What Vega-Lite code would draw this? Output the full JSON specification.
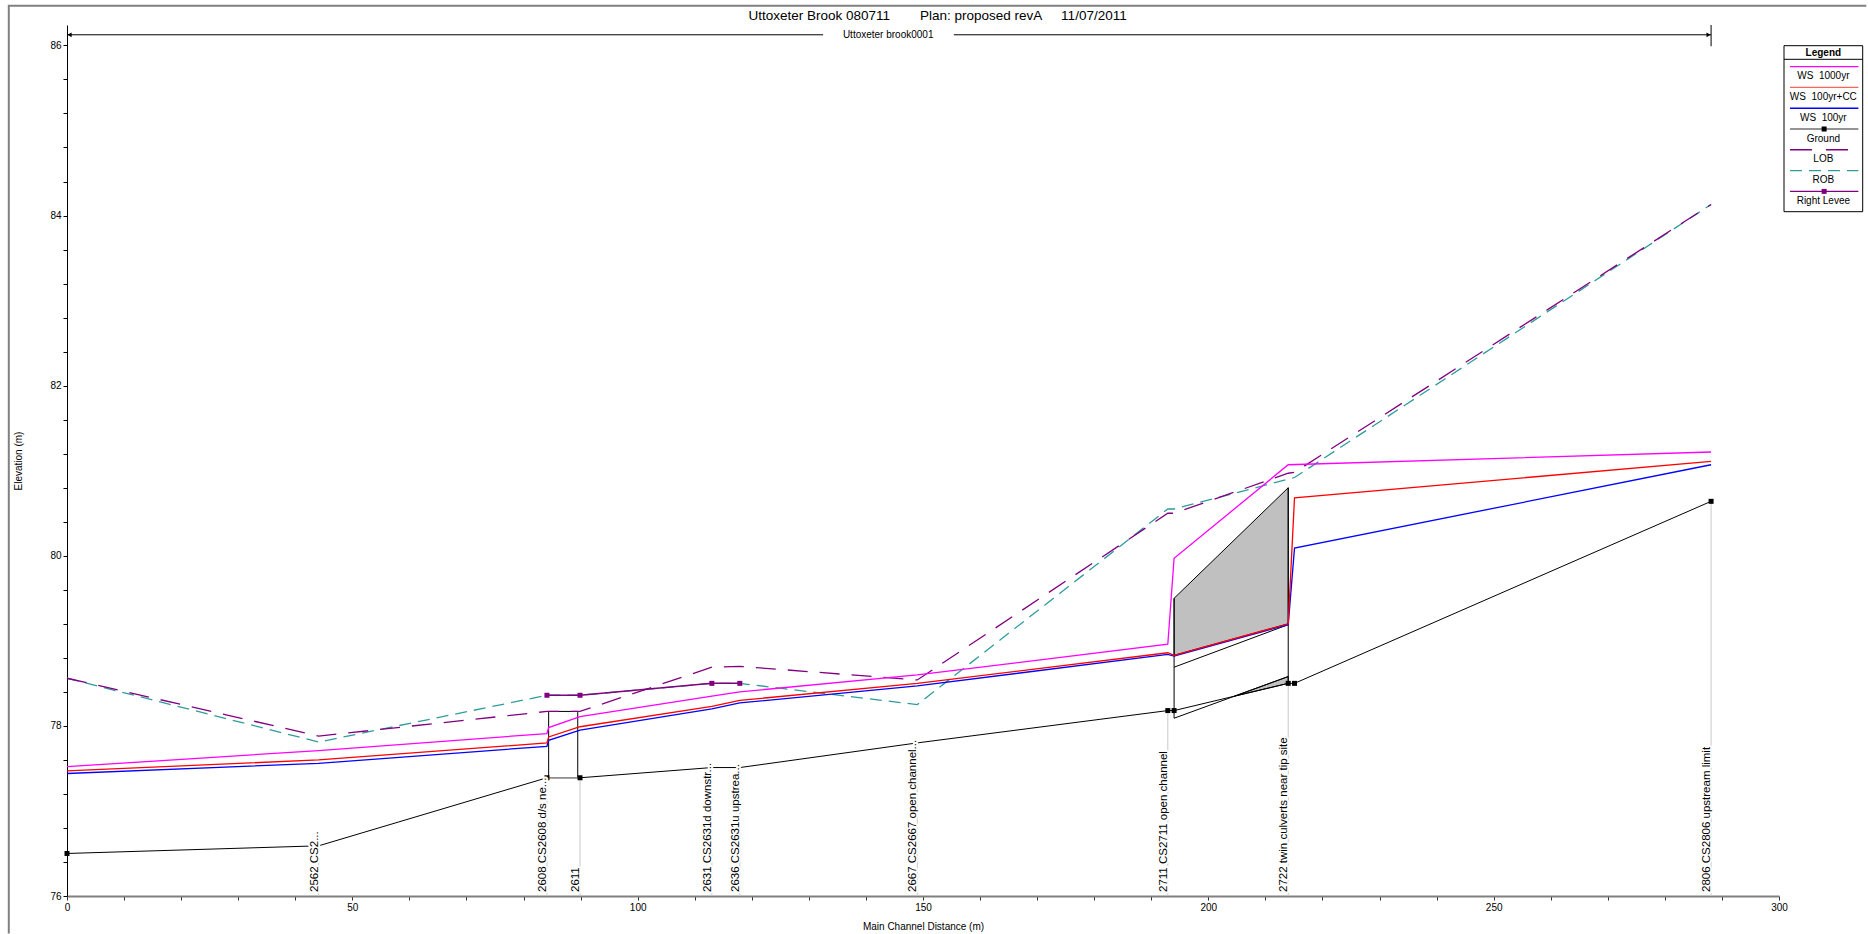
{
  "$schema": "https://vega.github.io/schema/vega-lite/v6.json",
  "background": "white",
  "padding": {"left": 4, "top": 1, "right": 1, "bottom": 0},
  "title": {
    "text": "Uttoxeter Brook 080711\u00a0\u00a0\u00a0\u00a0\u00a0\u00a0\u00a0\u00a0Plan: proposed revA\u00a0\u00a0\u00a0\u00a0\u00a011/07/2011",
    "font": "Liberation Sans", "fontSize": 13.5, "fontWeight": "normal", "color": "#000000",
    "anchor": "middle", "offset": -21
  },
  "config": {"view": {"stroke": null}, "font": "Liberation Sans"},
  "spacing": 5,
  "bounds": "flush",
  "datasets": {
    "lines": [
      {"s": "WS 1000yr", "i": 0, "x": 0, "y": 77.52},
      {"s": "WS 1000yr", "i": 1, "x": 44.1, "y": 77.71},
      {"s": "WS 1000yr", "i": 2, "x": 84.1, "y": 77.91},
      {"s": "WS 1000yr", "i": 3, "x": 84.4, "y": 77.98},
      {"s": "WS 1000yr", "i": 4, "x": 89.9, "y": 78.11},
      {"s": "WS 1000yr", "i": 5, "x": 113, "y": 78.35},
      {"s": "WS 1000yr", "i": 6, "x": 117.9, "y": 78.4},
      {"s": "WS 1000yr", "i": 7, "x": 149, "y": 78.6},
      {"s": "WS 1000yr", "i": 8, "x": 192.9, "y": 78.96},
      {"s": "WS 1000yr", "i": 9, "x": 194, "y": 79.97},
      {"s": "WS 1000yr", "i": 10, "x": 214, "y": 81.07},
      {"s": "WS 1000yr", "i": 11, "x": 288.1, "y": 81.22},
      {"s": "WS 100yr+CC", "i": 0, "x": 0, "y": 77.47},
      {"s": "WS 100yr+CC", "i": 1, "x": 44.1, "y": 77.6},
      {"s": "WS 100yr+CC", "i": 2, "x": 84.1, "y": 77.8},
      {"s": "WS 100yr+CC", "i": 3, "x": 84.4, "y": 77.87},
      {"s": "WS 100yr+CC", "i": 4, "x": 89.9, "y": 77.99},
      {"s": "WS 100yr+CC", "i": 5, "x": 113, "y": 78.23},
      {"s": "WS 100yr+CC", "i": 6, "x": 117.9, "y": 78.3},
      {"s": "WS 100yr+CC", "i": 7, "x": 149, "y": 78.5},
      {"s": "WS 100yr+CC", "i": 8, "x": 192.9, "y": 78.86},
      {"s": "WS 100yr+CC", "i": 9, "x": 194, "y": 78.83},
      {"s": "WS 100yr+CC", "i": 10, "x": 214, "y": 79.2},
      {"s": "WS 100yr+CC", "i": 11, "x": 215.1, "y": 80.68},
      {"s": "WS 100yr+CC", "i": 12, "x": 288.1, "y": 81.11},
      {"s": "WS 100yr", "i": 0, "x": 0, "y": 77.44},
      {"s": "WS 100yr", "i": 1, "x": 44.1, "y": 77.56},
      {"s": "WS 100yr", "i": 2, "x": 84.1, "y": 77.76},
      {"s": "WS 100yr", "i": 3, "x": 84.4, "y": 77.83},
      {"s": "WS 100yr", "i": 4, "x": 89.9, "y": 77.95},
      {"s": "WS 100yr", "i": 5, "x": 113, "y": 78.2},
      {"s": "WS 100yr", "i": 6, "x": 117.9, "y": 78.27},
      {"s": "WS 100yr", "i": 7, "x": 149, "y": 78.47},
      {"s": "WS 100yr", "i": 8, "x": 192.9, "y": 78.84},
      {"s": "WS 100yr", "i": 9, "x": 194, "y": 78.82},
      {"s": "WS 100yr", "i": 10, "x": 214, "y": 79.19},
      {"s": "WS 100yr", "i": 11, "x": 215.1, "y": 80.09},
      {"s": "WS 100yr", "i": 12, "x": 288.1, "y": 81.07},
      {"s": "Ground", "i": 0, "x": 0, "y": 76.5},
      {"s": "Ground", "i": 1, "x": 44.1, "y": 76.59},
      {"s": "Ground", "i": 2, "x": 84.1, "y": 77.39},
      {"s": "Ground", "i": 3, "x": 89.9, "y": 77.39},
      {"s": "Ground", "i": 4, "x": 113, "y": 77.51},
      {"s": "Ground", "i": 5, "x": 117.9, "y": 77.51},
      {"s": "Ground", "i": 6, "x": 149, "y": 77.8},
      {"s": "Ground", "i": 7, "x": 192.9, "y": 78.18},
      {"s": "Ground", "i": 8, "x": 194, "y": 78.18},
      {"s": "Ground", "i": 9, "x": 214, "y": 78.5},
      {"s": "Ground", "i": 10, "x": 215.1, "y": 78.5},
      {"s": "Ground", "i": 11, "x": 288.1, "y": 80.64},
      {"s": "LOB", "i": 0, "x": 0, "y": 78.56},
      {"s": "LOB", "i": 1, "x": 44.1, "y": 77.88},
      {"s": "LOB", "i": 2, "x": 84.1, "y": 78.17},
      {"s": "LOB", "i": 3, "x": 89.9, "y": 78.17},
      {"s": "LOB", "i": 4, "x": 113, "y": 78.69},
      {"s": "LOB", "i": 5, "x": 117.9, "y": 78.7},
      {"s": "LOB", "i": 6, "x": 149, "y": 78.54},
      {"s": "LOB", "i": 7, "x": 192.9, "y": 80.5},
      {"s": "LOB", "i": 8, "x": 194, "y": 80.5},
      {"s": "LOB", "i": 9, "x": 214, "y": 80.97},
      {"s": "LOB", "i": 10, "x": 215.1, "y": 80.98},
      {"s": "LOB", "i": 11, "x": 288.1, "y": 84.13},
      {"s": "ROB", "i": 0, "x": 0, "y": 78.56},
      {"s": "ROB", "i": 1, "x": 44.1, "y": 77.81},
      {"s": "ROB", "i": 2, "x": 84.1, "y": 78.36},
      {"s": "ROB", "i": 3, "x": 89.9, "y": 78.36},
      {"s": "ROB", "i": 4, "x": 113, "y": 78.5},
      {"s": "ROB", "i": 5, "x": 117.9, "y": 78.5},
      {"s": "ROB", "i": 6, "x": 149, "y": 78.25},
      {"s": "ROB", "i": 7, "x": 192.9, "y": 80.55},
      {"s": "ROB", "i": 8, "x": 194, "y": 80.55},
      {"s": "ROB", "i": 9, "x": 214, "y": 80.9},
      {"s": "ROB", "i": 10, "x": 215.1, "y": 80.92},
      {"s": "ROB", "i": 11, "x": 288.1, "y": 84.13},
      {"s": "Right Levee", "i": 0, "x": 84.1, "y": 78.36},
      {"s": "Right Levee", "i": 1, "x": 89.9, "y": 78.36},
      {"s": "Right Levee", "i": 2, "x": 113, "y": 78.5},
      {"s": "Right Levee", "i": 3, "x": 117.9, "y": 78.5},
      {"s": "Bridge", "i": 0, "x": 84.4, "y": 77.39},
      {"s": "Bridge", "i": 1, "x": 84.4, "y": 78.17},
      {"s": "Bridge", "i": 2, "x": 89.5, "y": 78.17},
      {"s": "Bridge", "i": 3, "x": 89.5, "y": 77.39},
      {"s": "Culvert left", "i": 0, "x": 194, "y": 78.09},
      {"s": "Culvert left", "i": 1, "x": 194, "y": 79.5},
      {"s": "Culvert right", "i": 0, "x": 214, "y": 78.5},
      {"s": "Culvert right", "i": 1, "x": 214, "y": 80.8},
      {"s": "Culvert soffit", "i": 0, "x": 194, "y": 78.69},
      {"s": "Culvert soffit", "i": 1, "x": 214, "y": 79.19},
      {"s": "Culvert invert", "i": 0, "x": 194, "y": 78.09},
      {"s": "Culvert invert", "i": 1, "x": 214, "y": 78.58},
      {"s": "Reach A", "i": 0, "x": 0, "y": 86.125},
      {"s": "Reach A", "i": 1, "x": 132.5, "y": 86.125},
      {"s": "Reach B", "i": 0, "x": 155.4, "y": 86.125},
      {"s": "Reach B", "i": 1, "x": 288.1, "y": 86.125},
      {"s": "Reach end", "i": 0, "x": 288.1, "y": 85.99},
      {"s": "Reach end", "i": 1, "x": 288.1, "y": 86.24},
      {"s": "Bridge floor", "i": 0, "x": 84.1, "y": 77.39},
      {"s": "Bridge floor", "i": 1, "x": 89.9, "y": 77.39},
      {"s": "Frame", "i": 0, "x": -10.2, "y": 75.56},
      {"s": "Frame", "i": 1, "x": -10.2, "y": 86.466},
      {"s": "Frame", "i": 2, "x": 315.3, "y": 86.466}
    ],
    "areas": [
      {"p": "deck", "x": 194, "y": 79.5, "y2": 78.83},
      {"p": "deck", "x": 214, "y": 80.8, "y2": 79.2},
      {"p": "fill", "x": 204.6, "y": 78.35, "y2": 78.35},
      {"p": "fill", "x": 214, "y": 78.58, "y2": 78.5}
    ],
    "markers": [
      {"s": "Ground", "x": 0, "y": 76.5},
      {"s": "Ground", "x": 84.1, "y": 77.39},
      {"s": "Ground", "x": 89.9, "y": 77.39},
      {"s": "Ground", "x": 192.9, "y": 78.18},
      {"s": "Ground", "x": 194, "y": 78.18},
      {"s": "Ground", "x": 214, "y": 78.5},
      {"s": "Ground", "x": 215.1, "y": 78.5},
      {"s": "Ground", "x": 288.1, "y": 80.64},
      {"s": "Right Levee", "x": 84.1, "y": 78.36},
      {"s": "Right Levee", "x": 89.9, "y": 78.36},
      {"s": "Right Levee", "x": 113, "y": 78.5},
      {"s": "Right Levee", "x": 117.9, "y": 78.5},
      {"s": "Arrow left", "x": 0.45, "y": 86.125},
      {"s": "Arrow right", "x": 287.65, "y": 86.125}
    ],
    "stations": [
      {"x": 44.1, "y": 76.59, "label": "2562 CS2..."},
      {"x": 84.1, "y": 77.39, "label": "2608 CS2608 d/s ne..."},
      {"x": 89.9, "y": 77.39, "label": "2611"},
      {"x": 113, "y": 77.51, "label": "2631 CS2631d downstr..."},
      {"x": 117.9, "y": 77.51, "label": "2636 CS2631u upstrea..."},
      {"x": 149, "y": 77.8, "label": "2667 CS2667 open channel..."},
      {"x": 192.9, "y": 78.18, "label": "2711 CS2711 open channel"},
      {"x": 214, "y": 78.5, "label": "2722 twin culverts near tip site"},
      {"x": 288.1, "y": 80.64, "label": "2806 CS2806 upstream limit"}
    ],
    "reach": [
      {"x": 143.9, "y": 86.125, "t": "Uttoxeter brook0001"}
    ],
    "legend": [
      {"series": "WS 1000yr", "name": "WS\u00a0\u00a01000yr", "row": 0},
      {"series": "WS 100yr+CC", "name": "WS\u00a0\u00a0100yr+CC", "row": 1},
      {"series": "WS 100yr", "name": "WS\u00a0\u00a0100yr", "row": 2},
      {"series": "Ground", "name": "Ground", "row": 3},
      {"series": "LOB", "name": "LOB", "row": 4},
      {"series": "ROB", "name": "ROB", "row": 5},
      {"series": "Right Levee", "name": "Right Levee", "row": 6}
    ],
    "legendTitle": [{"t": "Legend", "row": -0.317}],
    "legendFrame": [{"top": -0.654, "bottom": 7.327, "sep": 0}]
  },
  "hconcat": [
    {
      "width": 1712,
      "height": 871,
      "encoding": {
        "x": {
          "field": "x", "type": "quantitative",
          "scale": {"domain": [0, 300], "nice": false, "zero": false},
          "axis": {
            "title": "Main Channel Distance (m)",
            "values": [0,10,20,30,40,50,60,70,80,90,100,110,120,130,140,150,160,170,180,190,200,210,220,230,240,250,260,270,280,290,300],
            "labelExpr": "datum.value % 50 === 0 ? format(datum.value, 'd') : ''",
            "labelFlush": false, "labelOverlap": false, "grid": false,
            "domainColor": "#808080", "domainWidth": 2,
            "tickColor": "#303030", "tickSize": 4, "tickWidth": 1,
            "labelFont": "Liberation Sans", "labelFontSize": 10, "labelColor": "#000000", "labelPadding": 2,
            "titleFont": "Liberation Sans", "titleFontSize": 10, "titleFontWeight": "normal", "titleColor": "#000000", "titlePadding": 9
          }
        },
        "y": {
          "field": "y", "type": "quantitative",
          "scale": {"domain": [76, 86.24], "nice": false, "zero": false},
          "axis": {
            "title": "Elevation (m)",
            "values": [76,76.4,76.8,77.2,77.6,78,78.4,78.8,79.2,79.6,80,80.4,80.8,81.2,81.6,82,82.4,82.8,83.2,83.6,84,84.4,84.8,85.2,85.6,86],
            "labelExpr": "datum.value % 2 === 0 ? format(datum.value, 'd') : ''",
            "labelFlush": false, "labelOverlap": false, "grid": false,
            "domainColor": "#000000", "domainWidth": 1,
            "tickColor": "#000000", "tickSize": 4, "tickWidth": 1,
            "labelFont": "Liberation Sans", "labelFontSize": 10, "labelColor": "#000000", "labelPadding": 2,
            "titleFont": "Liberation Sans", "titleFontSize": 10, "titleFontWeight": "normal", "titleColor": "#000000", "titlePadding": 26
          }
        }
      },
      "layer": [
        {
          "data": {"name": "stations"},
          "mark": {"type": "rule", "color": "#C8C8C8", "strokeWidth": 1},
          "encoding": {"y2": {"datum": 76}}
        },
        {
          "data": {"name": "areas"},
          "mark": {"type": "area", "fill": "#C0C0C0", "stroke": "#000000", "strokeWidth": 1, "fillOpacity": 1},
          "encoding": {"y2": {"field": "y2"}, "detail": {"field": "p"}}
        },
        {
          "data": {"name": "lines"},
          "transform": [{"filter": "indexof(['Bridge','Culvert left','Culvert right','Culvert soffit','Culvert invert','Reach A','Reach B','Reach end'], datum.s) >= 0"}],
          "mark": {"type": "line", "color": "#000000", "strokeWidth": 1},
          "encoding": {"detail": {"field": "s"}, "order": {"field": "i"}}
        },
        {
          "data": {"name": "lines"},
          "transform": [{"filter": "datum.s === 'Ground'"}],
          "mark": {"type": "line", "color": "#000000", "strokeWidth": 1},
          "encoding": {"order": {"field": "i"}}
        },
        {
          "data": {"name": "lines"},
          "transform": [{"filter": "datum.s === 'Bridge floor'"}],
          "mark": {"type": "line", "color": "#909090", "strokeWidth": 1.5},
          "encoding": {"order": {"field": "i"}}
        },
        {
          "data": {"name": "lines"},
          "transform": [{"filter": "datum.s === 'ROB'"}],
          "mark": {"type": "line", "color": "#2F9C9C", "strokeWidth": 1.3, "strokeDash": [12, 7]},
          "encoding": {"order": {"field": "i"}}
        },
        {
          "data": {"name": "lines"},
          "transform": [{"filter": "datum.s === 'LOB'"}],
          "mark": {"type": "line", "color": "#800080", "strokeWidth": 1.3, "strokeDash": [20, 12]},
          "encoding": {"order": {"field": "i"}}
        },
        {
          "data": {"name": "lines"},
          "transform": [{"filter": "datum.s === 'Right Levee'"}],
          "mark": {"type": "line", "color": "#800080", "strokeWidth": 1.5},
          "encoding": {"order": {"field": "i"}}
        },
        {
          "data": {"name": "lines"},
          "transform": [{"filter": "datum.s === 'WS 100yr'"}],
          "mark": {"type": "line", "color": "#0000FF", "strokeWidth": 1.3},
          "encoding": {"order": {"field": "i"}}
        },
        {
          "data": {"name": "lines"},
          "transform": [{"filter": "datum.s === 'WS 100yr+CC'"}],
          "mark": {"type": "line", "color": "#FF0000", "strokeWidth": 1.3},
          "encoding": {"order": {"field": "i"}}
        },
        {
          "data": {"name": "lines"},
          "transform": [{"filter": "datum.s === 'WS 1000yr'"}],
          "mark": {"type": "line", "color": "#FF00FF", "strokeWidth": 1.3},
          "encoding": {"order": {"field": "i"}}
        },
        {
          "data": {"name": "lines"},
          "transform": [{"filter": "datum.s === 'Frame'"}],
          "mark": {"type": "line", "color": "#808080", "strokeWidth": 2},
          "encoding": {"order": {"field": "i"}}
        },
        {
          "data": {"name": "markers"},
          "transform": [{"filter": "datum.s === 'Ground'"}],
          "mark": {"type": "point", "shape": "square", "filled": true, "size": 25, "color": "#000000", "opacity": 1}
        },
        {
          "data": {"name": "markers"},
          "transform": [{"filter": "datum.s === 'Right Levee'"}],
          "mark": {"type": "point", "shape": "square", "filled": true, "size": 25, "color": "#800080", "opacity": 1}
        },
        {
          "data": {"name": "markers"},
          "transform": [{"filter": "datum.s === 'Arrow left'"}],
          "mark": {"type": "point", "shape": "triangle-left", "filled": true, "size": 22, "color": "#000000", "opacity": 1}
        },
        {
          "data": {"name": "markers"},
          "transform": [{"filter": "datum.s === 'Arrow right'"}],
          "mark": {"type": "point", "shape": "triangle-right", "filled": true, "size": 22, "color": "#000000", "opacity": 1}
        },
        {
          "data": {"name": "stations"},
          "mark": {"type": "text", "angle": 270, "align": "left", "baseline": "alphabetic", "dx": 4, "dy": -1, "font": "Liberation Sans", "fontSize": 11.5, "fill": "#FFFFFF", "stroke": "#FFFFFF", "strokeWidth": 4, "strokeJoin": "round"},
          "encoding": {"y": {"datum": 76}, "text": {"field": "label"}}
        },
        {
          "data": {"name": "stations"},
          "mark": {"type": "text", "angle": 270, "align": "left", "baseline": "alphabetic", "dx": 4, "dy": -1, "font": "Liberation Sans", "fontSize": 11.5, "color": "#000000"},
          "encoding": {"y": {"datum": 76}, "text": {"field": "label"}}
        },
        {
          "data": {"name": "reach"},
          "mark": {"type": "text", "align": "center", "baseline": "middle", "font": "Liberation Sans", "fontSize": 10, "color": "#000000"},
          "encoding": {"text": {"field": "t"}}
        }
      ]
    },
    {
      "width": 78.7,
      "height": 186.7,
      "layer": [
        {
          "data": {"name": "legendFrame"},
          "mark": {"type": "rect", "fill": "#FFFFFF", "stroke": "#000000", "strokeWidth": 1},
          "encoding": {
            "x": {"datum": 0, "type": "quantitative", "scale": {"domain": [0, 1], "nice": false, "zero": false}, "axis": null},
            "x2": {"datum": 1},
            "y": {"field": "top", "type": "quantitative", "scale": {"domain": [-1.649, 7.327], "reverse": true, "nice": false, "zero": false}, "axis": null},
            "y2": {"field": "bottom"}
          }
        },
        {
          "data": {"name": "legendFrame"},
          "mark": {"type": "rule", "color": "#000000", "strokeWidth": 1},
          "encoding": {
            "x": {"datum": 0, "type": "quantitative", "scale": {"domain": [0, 1], "nice": false, "zero": false}, "axis": null},
            "x2": {"datum": 1},
            "y": {"field": "sep", "type": "quantitative", "scale": {"domain": [-1.649, 7.327], "reverse": true, "nice": false, "zero": false}, "axis": null}
          }
        },
        {
          "data": {"name": "legendTitle"},
          "mark": {"type": "text", "align": "center", "baseline": "middle", "font": "Liberation Sans", "fontSize": 10, "fontWeight": "bold", "color": "#000000"},
          "encoding": {
            "x": {"datum": 0.5, "type": "quantitative", "scale": {"domain": [0, 1], "nice": false, "zero": false}, "axis": null},
            "y": {"field": "row", "type": "quantitative", "scale": {"domain": [-1.649, 7.327], "reverse": true, "nice": false, "zero": false}, "axis": null},
            "text": {"field": "t"}
          }
        },
        {
          "data": {"name": "legend"},
          "mark": {"type": "rule", "strokeWidth": 1.4, "yOffset": 7.3},
          "encoding": {
            "x": {"datum": 0.076, "type": "quantitative", "scale": {"domain": [0, 1], "nice": false, "zero": false}, "axis": null},
            "x2": {"datum": 0.945},
            "y": {"field": "row", "type": "quantitative", "scale": {"domain": [-1.649, 7.327], "reverse": true, "nice": false, "zero": false}, "axis": null},
            "color": {"field": "series", "type": "nominal", "legend": null,
              "scale": {"domain": ["WS 1000yr", "WS 100yr+CC", "WS 100yr", "Ground", "LOB", "ROB", "Right Levee"],
                        "range": ["#FF00FF", "#FF6060", "#0000FF", "#707070", "#800080", "#2F9C9C", "#800080"]}},
            "strokeDash": {"field": "series", "type": "nominal", "legend": null,
              "scale": {"domain": ["WS 1000yr", "WS 100yr+CC", "WS 100yr", "Ground", "LOB", "ROB", "Right Levee"],
                        "range": [[1, 0], [1, 0], [1, 0], [1, 0], [22, 14], [12, 7], [1, 0]]}}
          }
        },
        {
          "data": {"name": "legend"},
          "transform": [{"filter": "datum.series === 'Ground'"}],
          "mark": {"type": "point", "shape": "square", "filled": true, "size": 25, "color": "#000000", "opacity": 1, "yOffset": 7.3},
          "encoding": {
            "x": {"datum": 0.51, "type": "quantitative", "scale": {"domain": [0, 1], "nice": false, "zero": false}, "axis": null},
            "y": {"field": "row", "type": "quantitative", "scale": {"domain": [-1.649, 7.327], "reverse": true, "nice": false, "zero": false}, "axis": null}
          }
        },
        {
          "data": {"name": "legend"},
          "transform": [{"filter": "datum.series === 'Right Levee'"}],
          "mark": {"type": "point", "shape": "square", "filled": true, "size": 25, "color": "#800080", "opacity": 1, "yOffset": 7.3},
          "encoding": {
            "x": {"datum": 0.51, "type": "quantitative", "scale": {"domain": [0, 1], "nice": false, "zero": false}, "axis": null},
            "y": {"field": "row", "type": "quantitative", "scale": {"domain": [-1.649, 7.327], "reverse": true, "nice": false, "zero": false}, "axis": null}
          }
        },
        {
          "data": {"name": "legend"},
          "mark": {"type": "text", "align": "center", "baseline": "middle", "font": "Liberation Sans", "fontSize": 10, "color": "#000000", "yOffset": 17},
          "encoding": {
            "x": {"datum": 0.5, "type": "quantitative", "scale": {"domain": [0, 1], "nice": false, "zero": false}, "axis": null},
            "y": {"field": "row", "type": "quantitative", "scale": {"domain": [-1.649, 7.327], "reverse": true, "nice": false, "zero": false}, "axis": null},
            "text": {"field": "name"}
          }
        }
      ]
    }
  ]
}
